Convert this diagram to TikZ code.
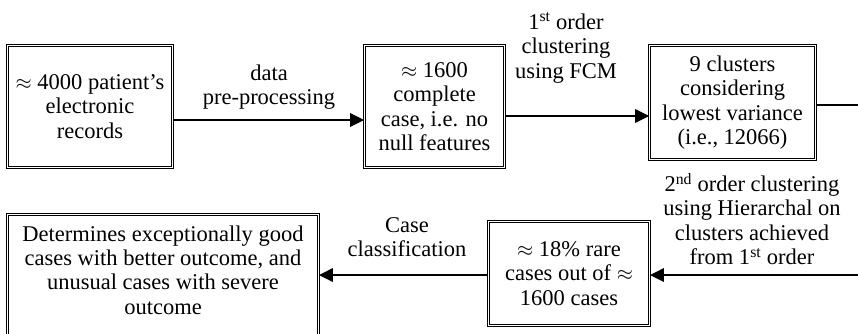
\documentclass[tikz,border=0pt]{standalone}
\usepackage{fontspec}
\setmainfont{Liberation Serif}
\usetikzlibrary{arrows.meta}
\tikzset{
  every node/.style={font=\fontsize{22.5}{24.3}\selectfont},
  dbox/.style={draw, double, double distance=1.6pt, line width=0.8pt,
               align=center, inner sep=0pt},
  lbl/.style={align=center, inner sep=0pt},
  link/.style={line width=2.8pt},
  arr/.style={link, -{Triangle[length=14pt,width=13pt]}},
}
\begin{document}
\begin{tikzpicture}[x=1pt,y=1pt]
\useasboundingbox (0,0) rectangle (858,-333);

% process boxes
\node[dbox, minimum width=164.8pt, minimum height=121.8pt] (rec) at (90,-106.5)
  {$\approx$ 4000 patient's\\electronic\\records};
\node[dbox, minimum width=139.8pt, minimum height=121.8pt] (complete) at (434.5,-106.5)
  {$\approx$ 1600\\complete\\case, i.e. no\\null features};
\node[dbox, minimum width=165.8pt, minimum height=113.8pt] (clusters) at (732.5,-102.5)
  {9 clusters\\considering\\lowest variance\\(i.e., 12066)};
\node[dbox, minimum width=160.8pt, minimum height=103.8pt] (rare) at (569,-273.5)
  {$\approx$ 18\% rare\\cases out of $\approx$\\1600 cases};
\node[dbox, minimum width=310.8pt, minimum height=135.4pt] (result) at (163,-282.3) {};
\node[lbl] (resulttext) at (163,-270)
  {Determines exceptionally good\\cases with better outcome, and\\unusual cases with severe\\outcome};

% edge labels
\node[lbl] (l1) at (269,-87) {data\\pre-processing};
\node[lbl] (l2) at (566,-48) {1\textsuperscript{st} order\\clustering\\using FCM};
\node[lbl] (l3) at (752,-219) {2\textsuperscript{nd} order clustering\\using Hierarchal on\\clusters achieved\\from 1\textsuperscript{st} order};
\node[lbl] (l4) at (407,-237) {Case\\classification};

% loop-back ends at the right border
\coordinate (outR) at (858,-105);
\coordinate (inR) at (858,-275);

% connectors
\draw[arr] (rec.east |- 0,-120) -- (complete.west |- 0,-120);
\draw[arr] (complete.east |- 0,-116) -- (clusters.west |- 0,-116);
\draw[link] (clusters.east |- outR) -- (outR);
\draw[arr] (inR) -- (rare.east |- inR);
\draw[arr] (rare.west |- 0,-275) -- (result.east |- 0,-275);
\end{tikzpicture}
\end{document}
